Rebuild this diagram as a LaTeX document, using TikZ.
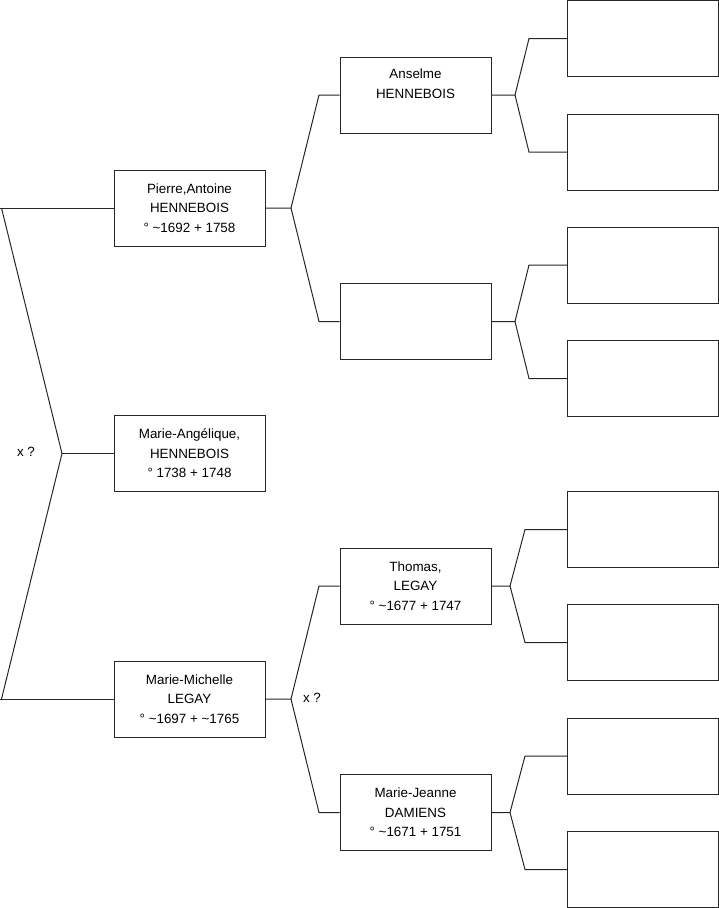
\documentclass[tikz,border=0pt]{standalone}
\usepackage{fontspec}
\setmainfont{Liberation Sans}
\begin{document}
\begin{tikzpicture}[x=1pt,y=-1pt,line width=1pt,
  personbox/.style={draw=black!85,minimum width=151pt,minimum height=76pt,inner sep=0pt,align=center,font=\fontsize{13.4}{19.6}\selectfont},
  conn/.style={draw=black!85,line join=miter},
  txt/.style={inner sep=0pt,align=center,font=\fontsize{13.4}{19.6}\selectfont}]
\useasboundingbox (0,0) rectangle (719,908);
% column 1
\node[personbox] (pierre) at (189.5,208) {Pierre,Antoine\\HENNEBOIS\\° \textasciitilde1692 + 1758};
\node[personbox] (angelique) at (189.5,453.5) {Marie-Angélique,\\HENNEBOIS\\° 1738 + 1748};
\node[personbox] (michelle) at (189.5,699) {Marie-Michelle\\LEGAY\\° \textasciitilde1697 + \textasciitilde1765};
% column 2
\node[personbox] (anselme) at (415.5,95) {};
\node[txt] (anselmetxt) at ([yshift=11pt]anselme.center) {Anselme\\HENNEBOIS};
\node[personbox] (empty) at (415.5,321.5) {};
\node[personbox] (thomas) at (415.5,586) {Thomas,\\LEGAY\\° \textasciitilde1677 + 1747};
\node[personbox] (jeanne) at (415.5,812.5) {Marie-Jeanne\\DAMIENS\\° \textasciitilde1671 + 1751};
% column 3
\node[personbox] (g1) at (643,38.5) {};
\node[personbox] (g2) at (643,152) {};
\node[personbox] (g3) at (643,265) {};
\node[personbox] (g4) at (643,378.5) {};
\node[personbox] (g5) at (643,529.5) {};
\node[personbox] (g6) at (643,642.5) {};
\node[personbox] (g7) at (643,756) {};
\node[personbox] (g8) at (643,869.5) {};
% labels
\node[txt] (x1) at (26,452) {x ?};
\node[txt] (x2) at (312,698) {x ?};
% root connector
\coordinate (r0) at (0,208);
\coordinate (ra) at (1.5,208);
\coordinate (rv) at (62,453.5);
\coordinate (rb) at (1.5,699);
\coordinate (r1) at (0,699);
\draw[conn] (pierre.west) -- (r0);
\draw[conn] (ra) -- (rv) -- (rb);
\draw[conn] (rv) -- (angelique.west);
\draw[conn] (r1) -- (michelle.west);
% pierre fork
\coordinate (pv) at (291,208);
\coordinate (pk1) at (319,95);
\coordinate (pk2) at (319,321.5);
\draw[conn] (pierre.east) -- (pv) -- (pk1) -- (anselme.west);
\draw[conn] (pv) -- (pk2) -- (empty.west);
% michelle fork
\coordinate (mv) at (291,699);
\coordinate (mk1) at (319,586);
\coordinate (mk2) at (319,812.5);
\draw[conn] (michelle.east) -- (mv) -- (mk1) -- (thomas.west);
\draw[conn] (mv) -- (mk2) -- (jeanne.west);
% anselme fork
\coordinate (av) at (515,95);
\coordinate (ak1) at (529,38.5);
\coordinate (ak2) at (529,152);
\draw[conn] (anselme.east) -- (av) -- (ak1) -- (g1.west);
\draw[conn] (av) -- (ak2) -- (g2.west);
% empty fork
\coordinate (ev) at (515,321.5);
\coordinate (ek1) at (529,265);
\coordinate (ek2) at (529,378.5);
\draw[conn] (empty.east) -- (ev) -- (ek1) -- (g3.west);
\draw[conn] (ev) -- (ek2) -- (g4.west);
% thomas fork
\coordinate (tv) at (510,586);
\coordinate (tk1) at (525,529.5);
\coordinate (tk2) at (525,642.5);
\draw[conn] (thomas.east) -- (tv) -- (tk1) -- (g5.west);
\draw[conn] (tv) -- (tk2) -- (g6.west);
% jeanne fork
\coordinate (jv) at (510,812.5);
\coordinate (jk1) at (525,756);
\coordinate (jk2) at (525,869.5);
\draw[conn] (jeanne.east) -- (jv) -- (jk1) -- (g7.west);
\draw[conn] (jv) -- (jk2) -- (g8.west);
\end{tikzpicture}
\end{document}
